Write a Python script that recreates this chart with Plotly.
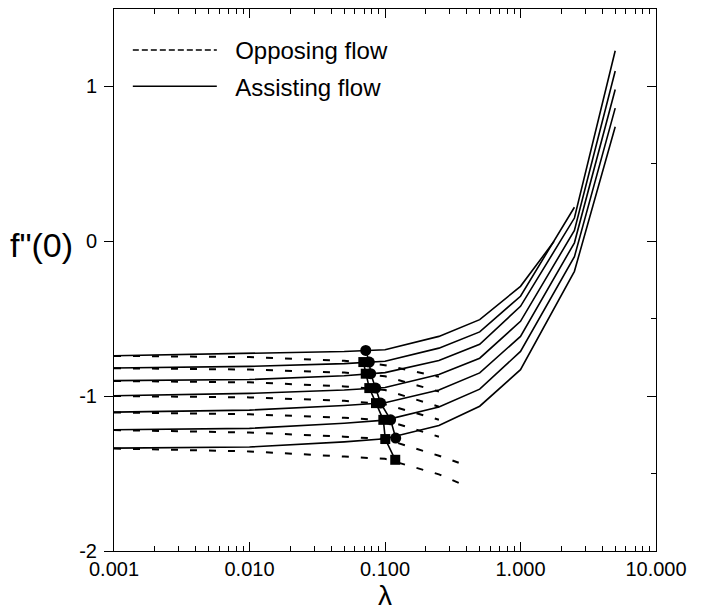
import plotly.graph_objects as go

# ---------------- data ----------------
lam_a = [0.001, 0.01, 0.05, 0.1, 0.25, 0.5, 1.0, 2.5, 5.0]
lam_a1 = [0.001, 0.01, 0.05, 0.1, 0.25, 0.5, 1.0, 1.77]
assist_1 = [-0.739, -0.724, -0.712, -0.700, -0.614, -0.506, -0.291, 0.0]
assist_2 = [-0.818, -0.808, -0.790, -0.775, -0.690, -0.585, -0.355, 0.22]
assist_3 = [-0.900, -0.893, -0.868, -0.848, -0.770, -0.665, -0.420, 0.15, 1.23]
assist_4 = [-0.997, -0.982, -0.960, -0.944, -0.860, -0.755, -0.517, 0.07, 1.10]
assist_5 = [-1.103, -1.090, -1.060, -1.043, -0.960, -0.850, -0.614, -0.01, 0.98]
assist_6 = [-1.217, -1.208, -1.175, -1.155, -1.070, -0.955, -0.711, -0.10, 0.86]
assist_7 = [-1.336, -1.328, -1.295, -1.275, -1.190, -1.065, -0.829, -0.194, 0.74]

lam_o = [0.001, 0.01, 0.05, 0.1, 0.25]
lam_o67 = [0.001, 0.01, 0.05, 0.1, 0.25, 0.35]
oppose_1 = [-0.740, -0.748, -0.772, -0.800, -0.875]
oppose_2 = [-0.820, -0.828, -0.848, -0.872, -0.970]
oppose_3 = [-0.902, -0.911, -0.937, -0.960, -1.068]
oppose_4 = [-0.999, -1.008, -1.030, -1.052, -1.152]
oppose_5 = [-1.105, -1.117, -1.140, -1.155, -1.262]
oppose_6 = [-1.219, -1.235, -1.262, -1.277, -1.385, -1.430]
oppose_7 = [-1.338, -1.357, -1.390, -1.405, -1.505, -1.560]

lam_circ = [0.0721, 0.0766, 0.0784, 0.0854, 0.0929, 0.110, 0.120]
f_circ = [-0.705, -0.780, -0.855, -0.948, -1.045, -1.153, -1.271]
lam_sq = [0.0692, 0.0721, 0.0766, 0.0858, 0.0972, 0.1005, 0.119]
f_sq = [-0.780, -0.855, -0.948, -1.045, -1.153, -1.277, -1.411]

x_ticks = [0.001, 0.01, 0.1, 1, 10]
x_ticktext = ["0.001", "0.010", "0.100", "1.000", "10.000"]
y_ticks = [-2, -1, 0, 1]
y_ticktext = ["-2", "-1", "0", "1"]

FONT = "Liberation Sans, Arial, sans-serif"

fig = go.Figure()

assist = [(lam_a1, assist_1), (lam_a, assist_2), (lam_a, assist_3), (lam_a, assist_4),
          (lam_a, assist_5), (lam_a, assist_6), (lam_a, assist_7)]
oppose = [(lam_o, oppose_1), (lam_o, oppose_2), (lam_o, oppose_3), (lam_o, oppose_4),
          (lam_o, oppose_5), (lam_o67, oppose_6), (lam_o67, oppose_7)]

for lx, fy in oppose:
    n = min(len(lx), len(fy))
    fig.add_trace(go.Scatter(x=lx[:n], y=fy[:n], mode="lines", showlegend=False,
                             line=dict(color="black", width=2, dash="7px,12px")))
for lx, fy in assist:
    n = min(len(lx), len(fy))
    fig.add_trace(go.Scatter(x=lx[:n], y=fy[:n], mode="lines", showlegend=False,
                             line=dict(color="black", width=1.6)))

fig.add_trace(go.Scatter(x=lam_sq, y=f_sq, mode="lines+markers", showlegend=False,
                         line=dict(color="black", width=1.6),
                         marker=dict(symbol="square", size=10, color="black")))
fig.add_trace(go.Scatter(x=lam_circ, y=f_circ, mode="lines+markers", showlegend=False,
                         line=dict(color="black", width=1.6),
                         marker=dict(symbol="circle", size=11, color="black")))

# legend-only entries
fig.add_trace(go.Scatter(x=[None], y=[None], mode="lines",
                         name="\u00a0\u00a0Opposing flow", legendgroup="a",
                         line=dict(color="black", width=1.6, dash="6px,3px")))
fig.add_trace(go.Scatter(x=[None], y=[None], mode="lines",
                         name="\u00a0\u00a0Assisting flow", legendgroup="b",
                         line=dict(color="black", width=1.6)))

# invisible trace for right axis
fig.add_trace(go.Scatter(x=[None], y=[None], yaxis="y2", showlegend=False))

fig.update_layout(
    width=697, height=603,
    margin=dict(l=106, r=49, t=1, b=60, autoexpand=False),
    paper_bgcolor="white", plot_bgcolor="white",
    font=dict(family=FONT, color="black", size=20),
    showlegend=True,
    legend=dict(x=0.0255, y=0.965, xanchor="left", yanchor="top",
                font=dict(size=24, family=FONT), itemwidth=84,
                tracegroupgap=2, bgcolor="rgba(0,0,0,0)"),
    xaxis=dict(type="log", range=[-3, 1], tickvals=x_ticks, ticktext=x_ticktext,
               ticks="inside", ticklen=9, tickwidth=1, tickcolor="black",
               showline=True, linecolor="black", linewidth=1, mirror="ticks",
               showgrid=False, zeroline=False, automargin=False,
               minor=dict(tickmode="linear", dtick="D1", ticks="inside", ticklen=5,
                          tickcolor="black", showgrid=False),
               tickfont=dict(size=20),
               title=dict(text="λ", font=dict(size=28), standoff=0)),
    yaxis=dict(range=[-2, 1.5], tickvals=y_ticks, ticktext=y_ticktext,
               ticks="outside", ticklen=9,
               tickcolor="black", showline=True, linecolor="black", linewidth=1,
               showgrid=False, zeroline=False, tickfont=dict(size=20),
               automargin=False, ticklabelstandoff=3),
    yaxis2=dict(range=[-2, 1.5], overlaying="y", side="right", tickvals=y_ticks,
                ticks="inside", ticklen=9, tickcolor="black", showline=True,
                linecolor="black", linewidth=1, showticklabels=False,
                showgrid=False, zeroline=False, automargin=False,
                minor=dict(dtick=0.5, ticks="inside", ticklen=5, tickcolor="black",
                           showgrid=False)),
    annotations=[dict(text='f"(0)', xref="paper", yref="paper", x=-0.196, y=0.565,
                      xanchor="left", yanchor="middle", showarrow=False,
                      font=dict(size=34, family=FONT))],
)

fig.write_html("out.html")
